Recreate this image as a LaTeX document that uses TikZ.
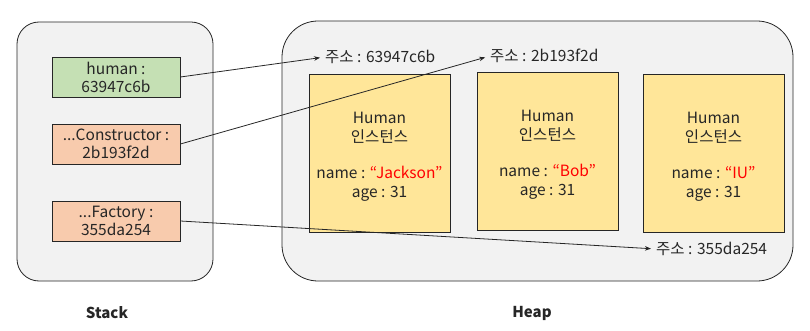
\documentclass[tikz,border=0pt]{standalone}
\usepackage{fontspec}
\setmainfont{Noto Sans CJK KR}
\usetikzlibrary{arrows.meta}
\definecolor{bggray}{HTML}{F2F2F2}
\definecolor{vargreen}{HTML}{C5E0B4}
\definecolor{varorange}{HTML}{F8CBAD}
\definecolor{instyellow}{HTML}{FFE699}
\definecolor{txt}{HTML}{262626}
\begin{document}
\begin{tikzpicture}[x=1pt,y=-1pt,
  every node/.style={text=txt},
  region/.style={draw=txt, fill=bggray, line width=0.8pt},
  varbox/.style={draw=txt, line width=0.8pt, minimum width=128pt, minimum height=40pt, inner sep=0pt, align=center, font=\fontsize{15.5}{18}\selectfont},
  instbox/.style={draw=txt, fill=instyellow, line width=0.8pt, minimum width=141pt, minimum height=158pt, inner sep=0pt},
  itxt/.style={align=center, font=\fontsize{15.5}{18.8}\selectfont, inner sep=0pt},
  addr/.style={font=\fontsize{15.5}{18}\selectfont, inner sep=0pt},
  conn/.style={draw=txt, line width=0.8pt, shorten >=5pt, -{Stealth[length=6pt,width=4.5pt]}},
  title/.style={font=\bfseries\fontsize{15}{18}\selectfont}]
\useasboundingbox (0,0) rectangle (810,331);
% regions
\path[region, rounded corners=22pt] (17,22) rectangle (213,281);
\path[region, rounded corners=36pt] (282,21) rectangle (793,281);
\node[title] (stk) at (107,313) {Stack};
\node[title] (hp) at (532,313) {Heap};
% stack vars
\node[varbox, fill=vargreen] (human) at (116,77) {human :\\63947c6b};
\node[varbox, fill=varorange] (ctor) at (116,144) {...Constructor :\\2b193f2d};
\node[varbox, fill=varorange] (fact) at (116,221) {...Factory :\\355da254};
% instances
\node[instbox] (i1) at (379.5,153) {};
\node[instbox] (i2) at (547.5,151) {};
\node[instbox] (i3) at (713.5,153) {};
\node[itxt] (t1) at (379.5,128) {Human\\인스턴스};
\node[itxt] (d1) at (379.5,184) {name : \textcolor{red}{“Jackson”}\\age : 31};
\node[itxt] (t2) at (547.5,126) {Human\\인스턴스};
\node[itxt] (d2) at (547.5,182) {name : \textcolor{red}{“Bob”}\\age : 31};
\node[itxt] (t3) at (713.5,128) {Human\\인스턴스};
\node[itxt] (d3) at (713.5,184) {name : \textcolor{red}{“IU”}\\age : 31};
% addresses
\node[addr, anchor=west] (a1) at (325,57) {주소 : 63947c6b};
\node[addr, anchor=west] (a2) at (490,56) {주소 : 2b193f2d};
\node[addr, anchor=west] (a3) at (656,249) {주소 : 355da254};
% connectors
\draw[conn] (human.east) -- (a1.west);
\draw[conn] (ctor.east) -- (a2.west);
\draw[conn] (fact.east) -- (a3.west);
\end{tikzpicture}
\end{document}
